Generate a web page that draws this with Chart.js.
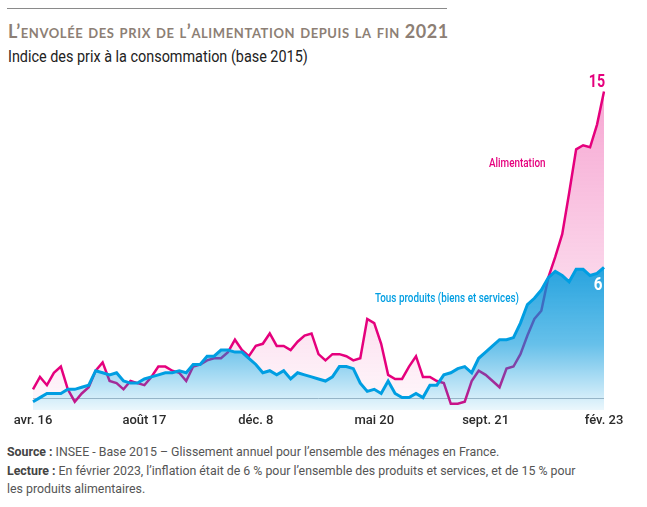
<!DOCTYPE html>
<html lang="fr">
<head>
<meta charset="utf-8">
<script src="https://cdn.jsdelivr.net/npm/chart.js@4.4.1/dist/chart.umd.min.js"></script>
<style>
  body { margin:0; width:647px; height:507px; background:#fff; position:relative; overflow:hidden;
         font-family:Roboto, sans-serif; }
  .rule { position:absolute; left:7px; top:8px; width:440px; border-top:1px solid #8a8a8a; }
  h1 { position:absolute; left:8px; top:20px; margin:0; font:bold 18px Lato, sans-serif;
       font-variant:small-caps; color:#8d7f75; letter-spacing:0.6px; white-space:nowrap; }
  h2 { position:absolute; left:8px; top:47px; margin:0; font-weight:normal; font-size:16px; color:#222;
       white-space:nowrap; transform:scaleX(0.9); transform-origin:left top; }
  #wrap { position:absolute; left:0; top:0; width:647px; height:440px; }
  .foot { position:absolute; left:7px; top:443px; font-size:13px; line-height:18.5px; color:#555;
          white-space:nowrap; transform:scaleX(0.95); transform-origin:left top; }
  .foot b { color:#444; }
</style>
</head>
<body>
<div class="rule"></div>
<h1>L’envolée des prix de l’alimentation depuis la fin 2021</h1>
<h2>Indice des prix à la consommation (base 2015)</h2>
<div id="wrap"><canvas id="chart"></canvas></div>
<div class="foot">
  <b>Source :</b> INSEE - Base 2015 – Glissement annuel pour l’ensemble des ménages en France.<br>
  <b>Lecture :</b> En février 2023, l’inflation était de 6 % pour l’ensemble des produits et services, et de 15 % pour<br>
  les produits alimentaires.
</div>
<script>
// months, avr. 2016 -> fév. 2023
var months = [
  'avr. 16','mai 16','juin 16','juil. 16','août 16','sept. 16','oct. 16','nov. 16','déc. 16',
  'janv. 17','fév. 17','mars 17','avr. 17','mai 17','juin 17','juil. 17','août 17','sept. 17','oct. 17','nov. 17','déc. 17',
  'janv. 18','fév. 18','mars 18','avr. 18','mai 18','juin 18','juil. 18','août 18','sept. 18','oct. 18','nov. 18','déc. 18',
  'janv. 19','fév. 19','mars 19','avr. 19','mai 19','juin 19','juil. 19','août 19','sept. 19','oct. 19','nov. 19','déc. 19',
  'janv. 20','fév. 20','mars 20','avr. 20','mai 20','juin 20','juil. 20','août 20','sept. 20','oct. 20','nov. 20','déc. 20',
  'janv. 21','fév. 21','mars 21','avr. 21','mai 21','juin 21','juil. 21','août 21','sept. 21','oct. 21','nov. 21','déc. 21',
  'janv. 22','fév. 22','mars 22','avr. 22','mai 22','juin 22','juil. 22','août 22','sept. 22','oct. 22','nov. 22','déc. 22',
  'janv. 23','fév. 23'
];

// Alimentation
var food = [
  0.4, 1.0, 0.6, 1.2, 1.5, 0.4, -0.2, 0.2, 0.5,
  1.3, 1.7, 0.8, 0.7, 0.4, 0.8, 0.7, 0.6, 1.0, 1.5, 1.5, 1.3,
  1.2, 0.8, 1.5, 1.6, 1.8, 1.9, 1.9, 2.2, 2.8, 2.3, 2.0, 2.5,
  2.6, 3.1, 2.5, 2.5, 2.3, 2.7, 3.0, 3.1, 2.1, 1.8, 2.1, 2.1,
  2.0, 1.8, 1.9, 3.8, 3.6, 2.6, 1.1, 0.9, 0.9, 1.5, 2.0, 1.0,
  1.0, 0.8, 0.7, -0.3, -0.3, -0.2, 0.8, 1.3, 1.1, 0.8, 0.5, 1.4,
  1.5, 2.1, 3.0, 3.8, 4.2, 5.8, 6.8, 7.9, 9.9, 12.0, 12.2, 12.1,
  13.2, 14.8
];

// Tous produits (biens et services)
var allItems = [
  -0.2, 0.0, 0.2, 0.2, 0.2, 0.4, 0.4, 0.5, 0.6,
  1.3, 1.2, 1.1, 1.2, 0.8, 0.7, 0.7, 0.9, 1.0, 1.1, 1.2, 1.2,
  1.3, 1.2, 1.6, 1.6, 2.0, 2.0, 2.3, 2.3, 2.2, 2.2, 1.9, 1.6,
  1.2, 1.3, 1.1, 1.3, 0.9, 1.2, 1.1, 1.0, 0.9, 0.8, 1.0, 1.5,
  1.5, 1.4, 0.7, 0.3, 0.4, 0.2, 0.8, 0.2, 0.0, 0.0, 0.2, 0.0,
  0.6, 0.6, 1.1, 1.2, 1.4, 1.5, 1.2, 1.9, 2.2, 2.5, 2.8, 2.8,
  2.9, 3.6, 4.5, 4.8, 5.2, 5.8, 6.1, 5.9, 5.6, 6.2, 6.2, 5.9,
  6.0, 6.3
];

// x axis ticks shown
var tickIndex = [0, 16, 32, 49, 65, 82];
var tickLabels = ['avr. 16', 'août 17', 'déc. 8', 'mai 20', 'sept. 21', 'fév. 23'];

var pink = '#e5007d';
var blue = '#009ee2';

function blueFill(c) {
    var chart = c.chart, area = chart.chartArea;
    if (!area) return 'rgba(0,150,220,0.5)';
    var top = chart.scales.y.getPixelForValue(6.5);
    var g = chart.ctx.createLinearGradient(0, top, 0, area.bottom);
    g.addColorStop(0, 'rgba(0,146,216,0.86)');
    g.addColorStop(0.55, 'rgba(0,150,220,0.6)');
    g.addColorStop(1, 'rgba(0,150,220,0.08)');
    return g;
}

function pinkFill(c) {
    var chart = c.chart, area = chart.chartArea;
    if (!area) return 'rgba(230,0,126,0.2)';
    var g = chart.ctx.createLinearGradient(0, area.top, 0, chart.scales.y.getPixelForValue(0));
    g.addColorStop(0, 'rgba(230,0,126,0.36)');
    g.addColorStop(1, 'rgba(230,0,126,0.04)');
    return g;
}

// narrow text: squeeze horizontally around the anchor
function narrowText(ctx, text, x, y, sx) {
    ctx.save();
    ctx.translate(x, y);
    ctx.scale(sx, 1);
    ctx.fillText(text, 0, 0);
    ctx.restore();
}

// zero line + the text labels on the plot
var labelPlugin = {
    id: 'labelPlugin',
    beforeDatasetsDraw: function(chart) {
        var ctx = chart.ctx, a = chart.chartArea;
        var y0 = Math.round(chart.scales.y.getPixelForValue(0)) + 0.5;
        ctx.save();
        ctx.strokeStyle = '#b3bbc3';
        ctx.lineWidth = 1;
        ctx.beginPath();
        ctx.moveTo(a.left, y0);
        ctx.lineTo(a.right, y0);
        ctx.stroke();
        ctx.restore();
    },
    afterDatasetsDraw: function(chart) {
        var ctx = chart.ctx, x = chart.scales.x, y = chart.scales.y;
        var last = months.length - 1;
        var xl = x.getPixelForValue(last);
        ctx.save();
        ctx.textBaseline = 'middle';
        ctx.textAlign = 'center';
        ctx.font = 'bold 19px Roboto, sans-serif';
        ctx.fillStyle = pink;
        narrowText(ctx, String(Math.round(food[last])), xl - 7, y.getPixelForValue(food[last]) - 9, 0.75);
        ctx.fillStyle = '#fff';
        narrowText(ctx, String(Math.round(allItems[last])), xl - 6, y.getPixelForValue(allItems[last]) + 18, 0.8);

        ctx.textAlign = 'right';
        ctx.font = '500 13px Roboto, sans-serif';
        ctx.fillStyle = pink;
        narrowText(ctx, 'Alimentation', x.getPixelForValue(73.6), y.getPixelForValue(11.3), 0.76);
        ctx.fillStyle = blue;
        narrowText(ctx, 'Tous produits (biens et services)', x.getPixelForValue(69.8), y.getPixelForValue(4.78), 0.76);
        ctx.restore();
    }
};

var chart = new Chart(document.getElementById('chart'), {
    type: 'line',
    data: {
        labels: months,
        datasets: [{
            label: 'Alimentation',
            data: food,
            borderColor: pink,
            borderWidth: 2.5,
            backgroundColor: pinkFill,
            fill: { target: 1, above: pinkFill, below: 'rgba(0,0,0,0)' },
            pointRadius: 0,
            tension: 0,
            order: 2
        },
        {
            label: 'Tous produits (biens et services)',
            data: allItems,
            borderColor: blue,
            borderWidth: 3,
            backgroundColor: blueFill,
            fill: 'start',
            pointRadius: 0,
            tension: 0,
            order: 1
        }]
    },
    options: {
        responsive: true,
        maintainAspectRatio: false,
        animation: false,
        layout: { padding: { left: 33, right: 43, top: 77, bottom: 0 } },
        plugins: {
            legend: { display: false },
            tooltip: { enabled: false },
            title: { display: false }
        },
        scales: {
            x: {
                grid: { display: false, drawTicks: false },
                border: { display: false },
                afterFit: function(s) { s.height = 30; },
                ticks: {
                    autoSkip: false,
                    maxRotation: 0,
                    padding: 3,
                    color: '#2b2b2b',
                    font: { family: 'Roboto, sans-serif', size: 13, weight: '500' },
                    callback: function(v, i) {
                        var k = tickIndex.indexOf(i);
                        return k < 0 ? null : tickLabels[k];
                    }
                }
            },
            y: {
                display: false,
                min: -0.6,
                max: 15.5
            }
        }
    },
    plugins: [labelPlugin]
});
</script>
</body>
</html>
